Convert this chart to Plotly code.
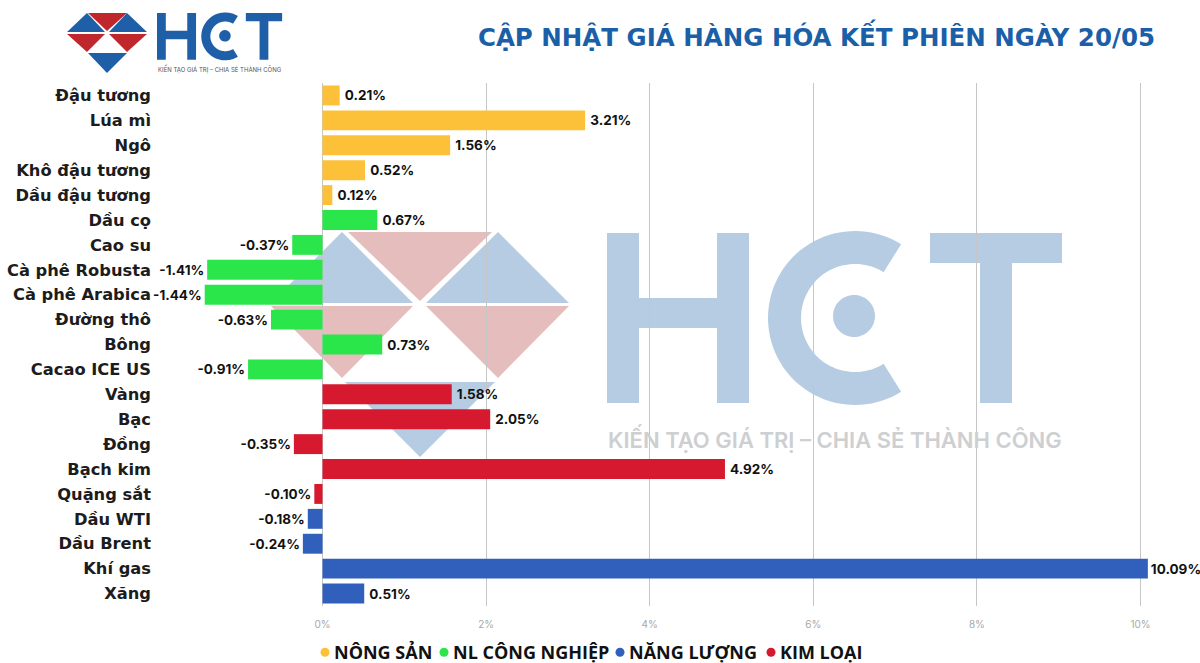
import numpy as np
import plotly.graph_objects as go

W, H = 1200, 663
L, R, T, B = 155, 0, 83, 57

cat_nong_san = ["Đậu tương", "Lúa mì", "Ngô", "Khô đậu tương", "Dầu đậu tương"]
val_nong_san = [0.21, 3.21, 1.56, 0.52, 0.12]
cat_cong_nghiep = ["Dầu cọ", "Cao su", "Cà phê Robusta", "Cà phê Arabica", "Đường thô", "Bông", "Cacao ICE US"]
val_cong_nghiep = [0.67, -0.37, -1.41, -1.44, -0.63, 0.73, -0.91]
cat_kim_loai = ["Vàng", "Bạc", "Đồng", "Bạch kim", "Quặng sắt"]
val_kim_loai = [1.58, 2.05, -0.35, 4.92, -0.10]
cat_nang_luong = ["Dầu WTI", "Dầu Brent", "Khí gas", "Xăng"]
val_nang_luong = [-0.18, -0.24, 10.09, 0.51]
tick_vals = [0, 2, 4, 6, 8, 10]
tick_text = ["0%", "2%", "4%", "6%", "8%", "10%"]

YELLOW, GREEN, BLUE, RED = "#fcc139", "#2be64b", "#3060bb", "#d7192f"
LABEL_FONT = "Inter"


def px(x):
    return (x - L) / (W - L - R)


def py(y):
    return 1 - (y - T) / (H - T - B)


def poly(points, color):
    d = "M " + " L ".join(f"{px(x):.5f},{py(y):.5f}" for x, y in points) + " Z"
    return dict(type="path", path=d, xref="paper", yref="paper", fillcolor=color,
                line=dict(width=0), layer="below")


def hct(x0, y0, s, color):
    """HCT wordmark; geometry given for the large version and scaled."""
    def t(pts):
        return [(x0 + (x - 607) * s, y0 + (y - 233) * s) for x, y in pts]
    shapes = [
        poly(t([(607, 233), (639, 233), (639, 298), (717, 298), (717, 233), (749, 233),
                (749, 403), (717, 403), (717, 328), (639, 328), (639, 403), (607, 403)]), color),
        poly(t([(930, 233), (1062, 233), (1062, 263), (1012, 263), (1012, 403), (980, 403),
                (980, 263), (930, 263)]), color),
    ]
    cx, cy = 855, 318
    a = np.radians(np.linspace(-58, -302, 70))
    outer = [(cx + 87 * np.cos(v), cy + 87 * np.sin(v)) for v in a]
    inner = [(cx + 54 * np.cos(v), cy + 54 * np.sin(v)) for v in a[::-1]]
    shapes.append(poly(t(outer + inner), color))
    b = np.radians(np.linspace(0, 360, 48))
    shapes.append(poly(t([(854 + 21 * np.cos(v), 316 + 21 * np.sin(v)) for v in b]), color))
    return shapes


shapes = []
wb, wr = "#b6cce3", "#e6bdbd"
shapes += [
    poly([(271, 303), (342, 232), (413, 303)], wb),
    poly([(348, 232), (492, 232), (420, 301)], wr),
    poly([(426, 303), (498, 232), (569, 303)], wb),
    poly([(271, 306), (413, 306), (342, 378)], wr),
    poly([(426, 306), (569, 306), (498, 378)], wr),
    poly([(345, 382), (495, 382), (420, 457)], wb),
]
shapes += hct(607, 233, 1.0, wb)
lb, lr = "#1e5fa8", "#c0272d"
shapes += [
    poly([(67, 32), (87, 13), (105, 32)], lb),
    poly([(88, 13), (127, 13), (107, 31)], lr),
    poly([(109, 32), (127, 13), (147, 32)], lb),
    poly([(67, 34), (105, 34), (87, 52)], lr),
    poly([(109, 34), (147, 34), (127, 52)], lr),
    poly([(88, 53), (127, 53), (107, 73)], lb),
]
shapes += hct(157, 13, 0.275, lb)

fig = go.Figure()
for name, cats, vals, col in [
    ("NÔNG SẢN", cat_nong_san, val_nong_san, YELLOW),
    ("NL CÔNG NGHIỆP", cat_cong_nghiep, val_cong_nghiep, GREEN),
    ("KIM LOẠI", cat_kim_loai, val_kim_loai, RED),
    ("NĂNG LƯỢNG", cat_nang_luong, val_nang_luong, BLUE),
]:
    fig.add_trace(go.Bar(
        x=vals, y=cats, orientation="h", marker=dict(color=col, line=dict(width=0)),
        width=0.8, name=name, showlegend=False,
        text=[("\u2009" if 0 < v < 10 else "") + f"{v:.2f}%" for v in vals],
        textposition="outside", cliponaxis=False,
        textfont=dict(family=LABEL_FONT, size=13.5, color="#111111", weight=700),
    ))
for name, col in [("NÔNG SẢN", YELLOW), ("NL CÔNG NGHIỆP", GREEN), ("NĂNG LƯỢNG", BLUE), ("KIM LOẠI", RED)]:
    fig.add_trace(go.Scatter(x=[None], y=[None], mode="markers", name=name,
                             marker=dict(color=col, size=9, symbol="circle")))

all_cats = cat_nong_san + cat_cong_nghiep + cat_kim_loai + cat_nang_luong
x_lo = (L - 322.5) / 81.8
x_hi = (W - 322.5) / 81.8

fig.update_layout(
    width=W, height=H, margin=dict(l=L, r=R, t=T, b=B, pad=0, autoexpand=False), autosize=False,
    paper_bgcolor="white", plot_bgcolor="rgba(0,0,0,0)", barmode="overlay",
    shapes=shapes, showlegend=True,
    xaxis=dict(range=[x_lo, x_hi], tickmode="array", tickvals=tick_vals, ticktext=tick_text,
               showgrid=True, gridcolor="#c6c6c6", gridwidth=1, zeroline=True, zerolinecolor="#c6c6c6",
               zerolinewidth=1, tickfont=dict(family="Inter", size=10, color="#a8a8a8"), ticklen=0,
               ticklabelstandoff=11),
    yaxis=dict(type="category", categoryorder="array", categoryarray=all_cats, autorange="reversed",
               showgrid=False, zeroline=False, ticklen=0, ticklabelstandoff=3,
               tickfont=dict(family="DejaVu Sans", size=16.3, color="#1c1c1c", weight=700)),
    legend=dict(orientation="h", x=px(305), xanchor="left", y=py(634), yanchor="top",
                bgcolor="rgba(0,0,0,0)", itemwidth=30, tracegroupgap=0,
                font=dict(family="Open Sans", size=18, color="#111111", weight=700)),
    title=dict(text="<b>CẬP NHẬT GIÁ HÀNG HÓA KẾT PHIÊN NGÀY 20/05</b>", x=1155 / W, xanchor="right",
               y=1 - 37 / H, yanchor="middle", font=dict(family="DejaVu Sans", size=24.5, color="#1a5fa8")),
    annotations=[
        dict(text="KIẾN TẠO GIÁ TRỊ – CHIA SẺ THÀNH CÔNG", xref="paper", yref="paper", x=px(834.5), y=py(438),
             showarrow=False, font=dict(family="Inter", size=22, color="#cdcfd1", weight=600),
             xanchor="center", yanchor="middle"),
        dict(text="KIẾN TẠO GIÁ TRỊ – CHIA SẺ THÀNH CÔNG", xref="paper", yref="paper", x=px(219.5), y=py(68.5),
             showarrow=False, font=dict(family="Inter", size=6, color="#555555"), xanchor="center", yanchor="middle"),
    ],
)

post = """
document.body.style.margin='0';
(function(){
  var shift=[0,119,295,446];
  function fix(){
    var items=document.querySelectorAll('.legend .traces');
    items.forEach(function(g,i){
      var m=/translate\\(([-\\d.]+),\\s*([-\\d.]+)\\)/.exec(g.getAttribute('transform')||'');
      g.setAttribute('transform','translate('+shift[i]+','+(m?m[2]:0)+')');
      var t=g.querySelector('.legendtext');
      if(t){t.setAttribute('x',29);}
    });
  }
  fix(); setTimeout(fix,100);
})();
"""
fig.write_html("out.html", post_script=post, config={"displayModeBar": False})
